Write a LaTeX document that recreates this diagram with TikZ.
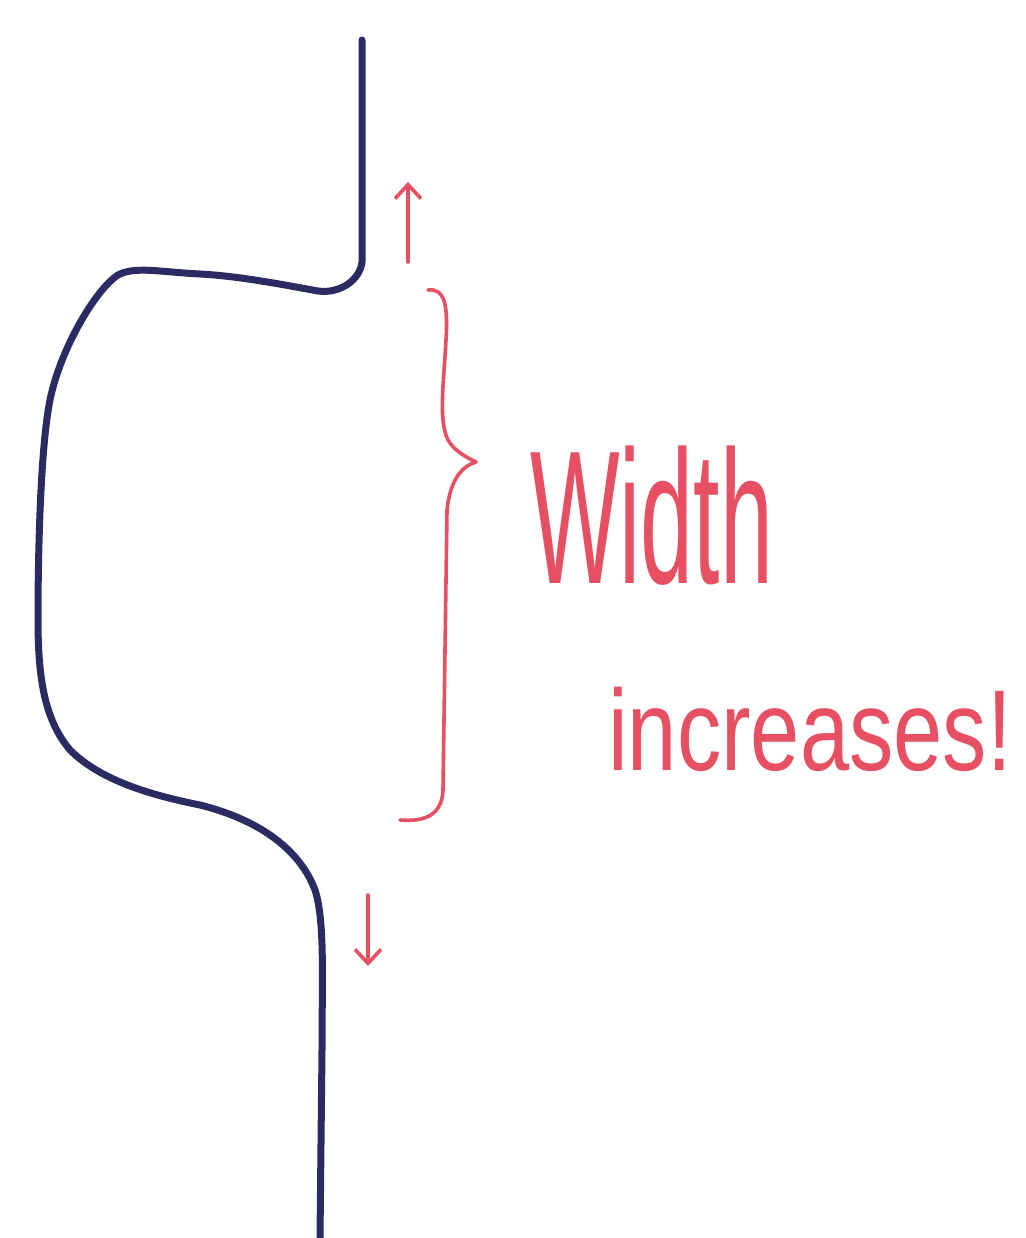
\documentclass[tikz,border=0pt]{standalone}
\usepackage{fontspec}
\setmainfont{Liberation Sans}
\usetikzlibrary{arrows.meta}
\definecolor{inkblue}{RGB}{44,42,98}
\definecolor{inkred}{RGB}{230,80,98}
\tikzset{
  blueline/.style={draw=inkblue, line width=7pt, line cap=round, line join=round},
  redline/.style={draw=inkred, line width=3.6pt, line cap=round, line join=round},
  redarrow/.style={redline, -{Straight Barb[length=14pt,width=26pt,line width=3.6pt]}},
  handtext/.style={text=inkred, inner sep=0pt}
}
\begin{document}
\begin{tikzpicture}[x=1pt,y=-1pt]
\useasboundingbox (0,0) rectangle (1025,1238);
% blue outline
\draw[blueline] (362,40) -- (362,262)
  .. controls (360,280) and (340,294) .. (318,291)
  .. controls (290,286) and (240,276) .. (200,274)
  .. controls (160,272) and (135,266) .. (118,275)
  .. controls (95,290) and (60,350) .. (50,400)
  .. controls (40,450) and (38,560) .. (38,620)
  .. controls (38,680) and (45,720) .. (70,750)
  .. controls (100,780) and (150,795) .. (200,805)
  .. controls (260,820) and (300,850) .. (315,890)
  .. controls (325,920) and (322,980) .. (322,1050)
  -- (320,1238);
% arrows
\coordinate (upS) at (408,262);
\coordinate (upE) at (408,182);
\coordinate (dnS) at (368,895);
\coordinate (dnE) at (368,966);
\draw[redarrow] (upS) -- (upE);
\draw[redarrow] (dnS) -- (dnE);
% brace
\draw[redline] (428,290) .. controls (445,288) and (448,305) .. (446,340)
  .. controls (444,380) and (438,420) .. (448,440)
  .. controls (455,452) and (468,458) .. (476,462)
  .. controls (462,466) and (450,480) .. (447,510)
  -- (443,790)
  .. controls (442,815) and (425,822) .. (400,820);
% text
\node[handtext, anchor=base west, xscale=0.5] (w) at (530,583) {\fontsize{190}{190}\selectfont Width};
\node[handtext, anchor=base west, xscale=0.77] (inc) at (608,770) {\fontsize{115}{115}\selectfont increases!};
\end{tikzpicture}
\end{document}
